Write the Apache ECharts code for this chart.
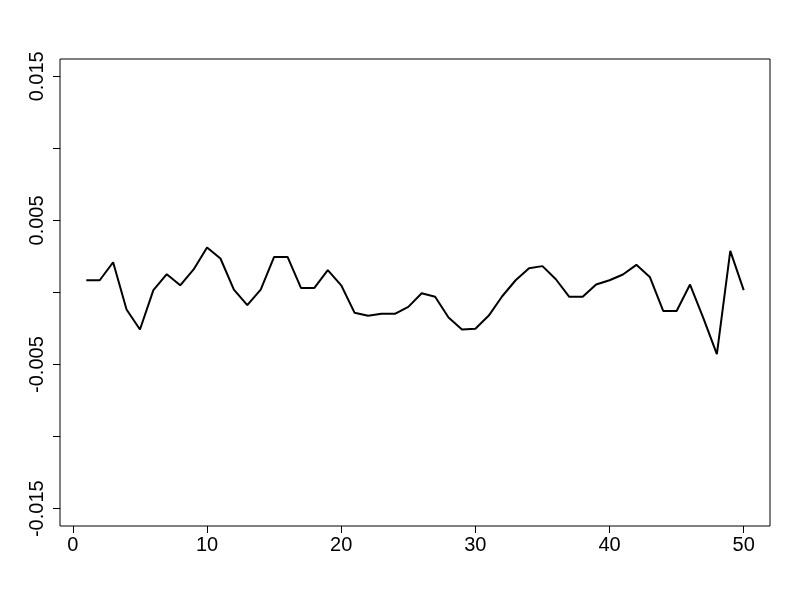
<!DOCTYPE html>
<html>
<head>
<meta charset="utf-8">
<script src="https://cdn.jsdelivr.net/npm/echarts@6/dist/echarts.min.js"></script>
<style>
  html, body { margin: 0; padding: 0; background: #fff; }
  #chart { width: 800px; height: 600px; }
</style>
</head>
<body>
<div id="chart"></div>
<script>
// series index 1..50 and values
const idx = Array.from({ length: 50 }, (_, i) => i + 1)
const values = [
  0.00085, 0.00085, 0.0021, -0.00118, -0.00257, 0.00016, 0.00127, 0.0005, 0.0016, 0.00312,
  0.00236, 0.0002, -0.00088, 0.0002, 0.00247, 0.00247, 0.00032, 0.00032, 0.00155, 0.0005,
  -0.00141, -0.00162, -0.00148, -0.00148, -0.001, -0.00005, -0.0003, -0.00174, -0.00257, -0.00252,
  -0.0016, -0.00026, 0.00085, 0.00169, 0.00183, 0.00092, -0.0003, -0.0003, 0.00055, 0.00085,
  0.00125, 0.00192, 0.00108, -0.00128, -0.00128, 0.00055, -0.0018, -0.00428, 0.00289, 0.00016
]
const xTicks = [0, 10, 20, 30, 40, 50]
const yTicks = [-0.015, -0.01, -0.005, 0, 0.005, 0.01, 0.015]
const yLabels = [-0.015, -0.005, 0.005, 0.015]

const chart = echarts.init(document.getElementById('chart'))
const font = 'Liberation Sans, Arial, sans-serif'

chart.setOption({
  animation: false,
  grid: {
    left: 60, right: 30, top: 59, bottom: 74,
    show: true, borderColor: '#000', borderWidth: 1, backgroundColor: 'transparent'
  },
  xAxis: {
    type: 'value',
    min: -0.96,
    max: 51.96,
    axisLine: { show: false, onZero: false },
    splitLine: { show: false },
    axisTick: { show: true, inside: false, length: 7, customValues: xTicks, lineStyle: { color: '#000' } },
    axisLabel: {
      customValues: xTicks, margin: 9,
      color: '#000', fontSize: 20, fontFamily: font
    }
  },
  yAxis: {
    type: 'value',
    min: -0.0162,
    max: 0.0162,
    axisLine: { show: false, onZero: false },
    splitLine: { show: false },
    axisTick: { show: true, inside: false, length: 7, customValues: yTicks, lineStyle: { color: '#000' } },
    axisLabel: {
      customValues: yLabels, rotate: 90, margin: 13,
      color: '#000', fontSize: 20, fontFamily: font,
      formatter: v => String(+v.toFixed(3))
    }
  },
  series: [{
    type: 'line',
    data: idx.map((x, i) => [x, values[i]]),
    showSymbol: false,
    lineStyle: { color: '#000', width: 2 },
    clip: true
  }]
})
</script>
</body>
</html>
